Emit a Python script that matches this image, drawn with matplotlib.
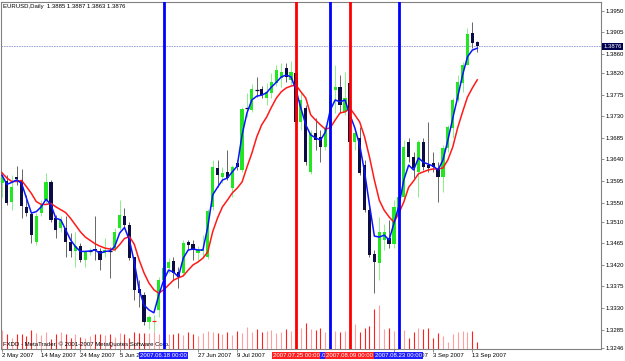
import matplotlib
matplotlib.use("Agg")
import matplotlib.pyplot as plt
import matplotlib.transforms as mtransforms

# EURUSD daily bars, 2 May 2007 .. 14 Sep 2007 (bar index = trading day)
opens = [1.3590, 1.3594, 1.3552, 1.3604, 1.3598, 1.3540, 1.3526, 1.3468, 1.3528, 1.3555,
         1.3592, 1.3517, 1.3496, 1.3496, 1.3468, 1.3448, 1.3459, 1.3430, 1.3448, 1.3454,
         1.3448, 1.3444, 1.3452, 1.3451, 1.3496, 1.3522, 1.3503, 1.3436, 1.3370, 1.3357,
         1.3301, 1.3303, 1.3326, 1.3388, 1.3413, 1.3428, 1.3405, 1.3403, 1.3468, 1.3464,
         1.3445, 1.3449, 1.3436, 1.3541, 1.3622, 1.3603, 1.3614, 1.3580, 1.3632, 1.3618,
         1.3745, 1.3743, 1.3787, 1.3787, 1.3768, 1.3779, 1.3799, 1.3810, 1.3831, 1.3806,
         1.3820, 1.3718, 1.3747, 1.3614, 1.3695, 1.3687, 1.3666, 1.3706, 1.3785, 1.3791,
         1.3739, 1.3799, 1.3676, 1.3685, 1.3628, 1.3534, 1.3443, 1.3424, 1.3472, 1.3476,
         1.3463, 1.3524, 1.3562, 1.3676, 1.3645, 1.3614, 1.3676, 1.3628, 1.3632, 1.3622,
         1.3603, 1.3664, 1.3706, 1.3764, 1.3799, 1.3837, 1.3904, 1.3885]
highs = [1.3614, 1.3608, 1.3608, 1.3626, 1.3619, 1.3566, 1.3531, 1.3528, 1.3555, 1.3611,
         1.3597, 1.3524, 1.3521, 1.3521, 1.3486, 1.3489, 1.3465, 1.3451, 1.3455, 1.3521,
         1.3455, 1.3475, 1.3458, 1.3496, 1.3555, 1.3538, 1.3510, 1.3437, 1.3388, 1.3363,
         1.3315, 1.3315, 1.3395, 1.3426, 1.3434, 1.3436, 1.3416, 1.3472, 1.3472, 1.3472,
         1.3459, 1.3482, 1.3537, 1.3639, 1.3639, 1.3624, 1.3660, 1.3628, 1.3639, 1.3749,
         1.3779, 1.3797, 1.3812, 1.3793, 1.3799, 1.3820, 1.3837, 1.3841, 1.3841, 1.3845,
         1.3826, 1.3781, 1.3753, 1.3701, 1.3726, 1.3701, 1.3712, 1.3789, 1.3837, 1.3816,
         1.3822, 1.3806, 1.3706, 1.3708, 1.3639, 1.3541, 1.3451, 1.3520, 1.3505, 1.3513,
         1.3555, 1.3576, 1.3680, 1.3685, 1.3655, 1.3680, 1.3685, 1.3718, 1.3655, 1.3635,
         1.3670, 1.3712, 1.3768, 1.3816, 1.3843, 1.3914, 1.3927, 1.3887]
lows = [1.3562, 1.3545, 1.3535, 1.3587, 1.3517, 1.3521, 1.3465, 1.3462, 1.3521, 1.3548,
        1.3510, 1.3475, 1.3489, 1.3437, 1.3437, 1.3416, 1.3427, 1.3416, 1.3441, 1.3430,
        1.3409, 1.3437, 1.3392, 1.3448, 1.3493, 1.3500, 1.3430, 1.3347, 1.3332, 1.3295,
        1.3286, 1.3280, 1.3311, 1.3382, 1.3403, 1.3388, 1.3372, 1.3397, 1.3451, 1.3430,
        1.3426, 1.3434, 1.3432, 1.3535, 1.3582, 1.3591, 1.3597, 1.3562, 1.3618, 1.3614,
        1.3728, 1.3739, 1.3770, 1.3768, 1.3754, 1.3768, 1.3793, 1.3791, 1.3801, 1.3795,
        1.3712, 1.3701, 1.3628, 1.3610, 1.3660, 1.3635, 1.3660, 1.3701, 1.3737, 1.3737,
        1.3733, 1.3670, 1.3660, 1.3607, 1.3530, 1.3436, 1.3361, 1.3388, 1.3451, 1.3455,
        1.3455, 1.3520, 1.3557, 1.3635, 1.3601, 1.3562, 1.3618, 1.3614, 1.3614, 1.3551,
        1.3572, 1.3655, 1.3685, 1.3760, 1.3781, 1.3837, 1.3872, 1.3863]
closes = [1.3604, 1.3548, 1.3583, 1.3599, 1.3543, 1.3528, 1.3482, 1.3521, 1.3545, 1.3592,
          1.3514, 1.3493, 1.3514, 1.3468, 1.3448, 1.3459, 1.3430, 1.3446, 1.3449, 1.3450,
          1.3430, 1.3451, 1.3449, 1.3489, 1.3523, 1.3503, 1.3434, 1.3368, 1.3361, 1.3301,
          1.3311, 1.3303, 1.3388, 1.3413, 1.3426, 1.3403, 1.3395, 1.3466, 1.3462, 1.3451,
          1.3451, 1.3453, 1.3532, 1.3624, 1.3607, 1.3612, 1.3601, 1.3624, 1.3624, 1.3745,
          1.3747, 1.3787, 1.3785, 1.3774, 1.3781, 1.3801, 1.3826, 1.3822, 1.3812, 1.3822,
          1.3718, 1.3764, 1.3635, 1.3695, 1.3680, 1.3666, 1.3706, 1.3774, 1.3791, 1.3753,
          1.3768, 1.3676, 1.3695, 1.3612, 1.3534, 1.3441, 1.3426, 1.3489, 1.3489, 1.3463,
          1.3541, 1.3562, 1.3666, 1.3645, 1.3622, 1.3676, 1.3624, 1.3622, 1.3624, 1.3603,
          1.3664, 1.3708, 1.3764, 1.3801, 1.3837, 1.3902, 1.3883, 1.3876]

# the two moving averages as drawn on the chart
ma_fast = [1.3607, 1.3588, 1.3592, 1.3597, 1.3590, 1.3559, 1.3528, 1.3531, 1.3541, 1.3557,
           1.3545, 1.3517, 1.3514, 1.3493, 1.3472, 1.3458, 1.3448, 1.3448, 1.3449, 1.3451,
           1.3444, 1.3448, 1.3449, 1.3458, 1.3486, 1.3498, 1.3472, 1.3426, 1.3368, 1.3336,
           1.3326, 1.3320, 1.3357, 1.3388, 1.3409, 1.3405, 1.3395, 1.3434, 1.3451, 1.3453,
           1.3451, 1.3451, 1.3499, 1.3566, 1.3582, 1.3597, 1.3601, 1.3614, 1.3626, 1.3691,
           1.3737, 1.3764, 1.3772, 1.3774, 1.3779, 1.3791, 1.3801, 1.3812, 1.3816, 1.3812,
           1.3785, 1.3747, 1.3712, 1.3691, 1.3685, 1.3680, 1.3697, 1.3743, 1.3764, 1.3760,
           1.3764, 1.3733, 1.3706, 1.3670, 1.3614, 1.3545, 1.3480, 1.3478, 1.3482, 1.3472,
           1.3507, 1.3543, 1.3597, 1.3628, 1.3618, 1.3643, 1.3634, 1.3630, 1.3626, 1.3618,
           1.3639, 1.3680, 1.3726, 1.3770, 1.3816, 1.3854, 1.3868, 1.3872]
ma_slow = [1.3612, 1.3601, 1.3594, 1.3594, 1.3596, 1.3583, 1.3569, 1.3552, 1.3546, 1.3546,
           1.3548, 1.3541, 1.3535, 1.3529, 1.3517, 1.3503, 1.3489, 1.3478, 1.3471, 1.3464,
           1.3459, 1.3455, 1.3453, 1.3451, 1.3462, 1.3475, 1.3479, 1.3463, 1.3430, 1.3403,
           1.3382, 1.3368, 1.3361, 1.3368, 1.3378, 1.3388, 1.3393, 1.3397, 1.3409, 1.3420,
           1.3426, 1.3434, 1.3447, 1.3489, 1.3518, 1.3541, 1.3555, 1.3570, 1.3580, 1.3593,
           1.3624, 1.3653, 1.3687, 1.3712, 1.3728, 1.3749, 1.3768, 1.3781, 1.3789, 1.3793,
           1.3795, 1.3781, 1.3768, 1.3733, 1.3722, 1.3712, 1.3703, 1.3706, 1.3722, 1.3737,
           1.3739, 1.3747, 1.3733, 1.3718, 1.3687, 1.3645, 1.3597, 1.3555, 1.3534, 1.3520,
           1.3509, 1.3528, 1.3551, 1.3582, 1.3595, 1.3610, 1.3614, 1.3618, 1.3620, 1.3620,
           1.3622, 1.3639, 1.3666, 1.3706, 1.3739, 1.3770, 1.3789, 1.3806]

volumes = [19, 15, 11, 15, 15, 13, 19, 16, 14, 17, 10, 15, 17, 15, 11, 15, 12, 11, 13, 15,
           15, 14, 15, 12, 16, 15, 11, 17, 16, 16, 16, 17, 15, 16, 15, 15, 16, 14, 17, 15,
           13, 16, 18, 17, 16, 15, 17, 14, 18, 16, 22, 17, 20, 17, 18, 19, 16, 17, 20, 18,
           21, 21, 26, 20, 19, 21, 17, 18, 18, 17, 18, 22, 25, 17, 21, 23, 40, 44, 20, 21,
           18, 19, 19, 11, 17, 21, 20, 21, 11, 16, 13, 7, 15, 17, 18, 17, 18, 7]

# date labels that are not hidden behind the line boxes
date_ticks = [0, 8, 16, 24, 40, 48, 80, 88, 96]
date_labels = ["2 May 2007", "14 May 2007", "24 May 2007", "5 Jun 2007",
               "27 Jun 2007", "9 Jul 2007", "22 Aug 2007", "3 Sep 2007", "13 Sep 2007"]

price_ticks = [1.3950, 1.3905, 1.3860, 1.3820, 1.3775, 1.3730, 1.3685, 1.3640, 1.3595,
               1.3550, 1.3510, 1.3465, 1.3420, 1.3375, 1.3330, 1.3285, 1.3246]

blue_lines = [33, 67, 81]
blue_names = ["2007.06.18 00:00", "2007.08.03 00:00", "2007.08.23 00:00"]
red_lines = [60, 71]
red_names = ["2007.07.25 00:00", "2007.08.09 00:00"]

FONT = "Liberation Sans"
FS = 4.3
BULL = "#22e622"
BULL_WICK = "#8af08a"
BEAR = "#0c0c44"
BEAR_WICK = "#666666"

fig = plt.figure(figsize=(6.25, 3.61), dpi=100)
ax = fig.add_axes([1 / 625, 12 / 361, 600 / 625, 347 / 361])
ax2 = ax.twinx()   # volume strip (twinx moves ax ticks left, so set right ticks after)
n = len(closes)
idx = list(range(n))

for i in idx:
    o, h, l, c = opens[i], highs[i], lows[i], closes[i]
    up = c >= o
    ax.vlines(i, l, h, color=BULL_WICK if up else BEAR_WICK, lw=0.7, zorder=2)
    if abs(c - o) < 0.0003:
        # doji: the low one in June is drawn red on the chart
        ax.hlines(c, i - 0.4, i + 0.4, color="#ff2020" if c < 1.34 else BEAR, lw=0.9, zorder=3)
    else:
        ax.bar(i, abs(c - o), bottom=min(o, c), width=0.66,
               color=BULL if up else BEAR, linewidth=0, zorder=3)

ax.plot(idx, ma_slow, color="#ff1a1a", lw=1.1, zorder=4)
ax.plot(idx, ma_fast, color="#0a14ff", lw=1.1, zorder=5)

ax.axhline(closes[-1], color="#8c9cd0", lw=0.6, ls=(0, (2, 1)), zorder=1)

ax.set_xlim(-0.2, 122.25)
ax.set_ylim(1.32445, 1.39683)

ax.set_yticks(price_ticks)
ax.set_yticklabels(["%.4f" % p for p in price_ticks])
ax.yaxis.tick_right()
ax.yaxis.set_label_position("right")
ax.set_xticks(date_ticks)
ax.set_xticklabels(date_labels)
for lab in ax.get_xticklabels():
    lab.set_horizontalalignment("left")
ax.tick_params(axis="both", length=2, width=0.6, color="#808080",
               labelsize=FS, pad=1.5)
ax.tick_params(axis="x", pad=1)
for lab in ax.get_xticklabels() + ax.get_yticklabels():
    lab.set_fontfamily(FONT)
for sp in ax.spines.values():
    sp.set_color("#808080")
    sp.set_linewidth(0.8)

# volume histogram in the bottom strip
vcol = ["#ff2020" if closes[i] < opens[i] else "#ffa0a0" for i in idx]
ax2.vlines(idx, 0, volumes, colors=vcol, lw=0.8)
ax2.set_ylim(0, 347)
ax2.set_yticks([])
for sp in ax2.spines.values():
    sp.set_visible(False)

trans = mtransforms.blended_transform_factory(ax2.transData, ax2.transAxes)
for pos, name in zip(blue_lines, blue_names):
    ax2.axvline(pos, color="#0000ff", lw=2.0, zorder=6)
    ax2.text(pos, -0.011, name, transform=trans, ha="center", va="top", color="white",
             fontsize=FS, family=FONT, clip_on=False, zorder=7,
             bbox=dict(boxstyle="square,pad=0.15", fc="#2020ff", ec="none"))
for pos, name in zip(red_lines, red_names):
    ax2.axvline(pos, color="#ff0000", lw=2.0, zorder=6)
    ax2.text(pos, -0.011, name, transform=trans, ha="center", va="top", color="white",
             fontsize=FS, family=FONT, clip_on=False, zorder=8,
             bbox=dict(boxstyle="square,pad=0.15", fc="#ff2020", ec="none"))

ax2.text(0.004, 0.993, "EURUSD,Daily  %.4f %.4f %.4f %.4f" % (opens[-1], highs[-1], lows[-1], closes[-1]),
         transform=ax2.transAxes, ha="left", va="top", fontsize=FS, family=FONT, color="black")
ax2.text(0.003, 0.006, "FXDD - MetaTrader, \u00a9 2001-2007 MetaQuotes Software Corp.",
         transform=ax2.transAxes, ha="left", va="bottom", fontsize=FS, family=FONT, color="black")

ptrans = mtransforms.blended_transform_factory(ax2.transAxes, ax.transData)
ax2.text(1.004, closes[-1], "%.4f" % closes[-1], transform=ptrans, ha="left", va="center",
         color="white", fontsize=FS, family=FONT, clip_on=False, zorder=9,
         bbox=dict(boxstyle="square,pad=0.2", fc="#000050", ec="none"))

fig.savefig("out.png", dpi=100)
